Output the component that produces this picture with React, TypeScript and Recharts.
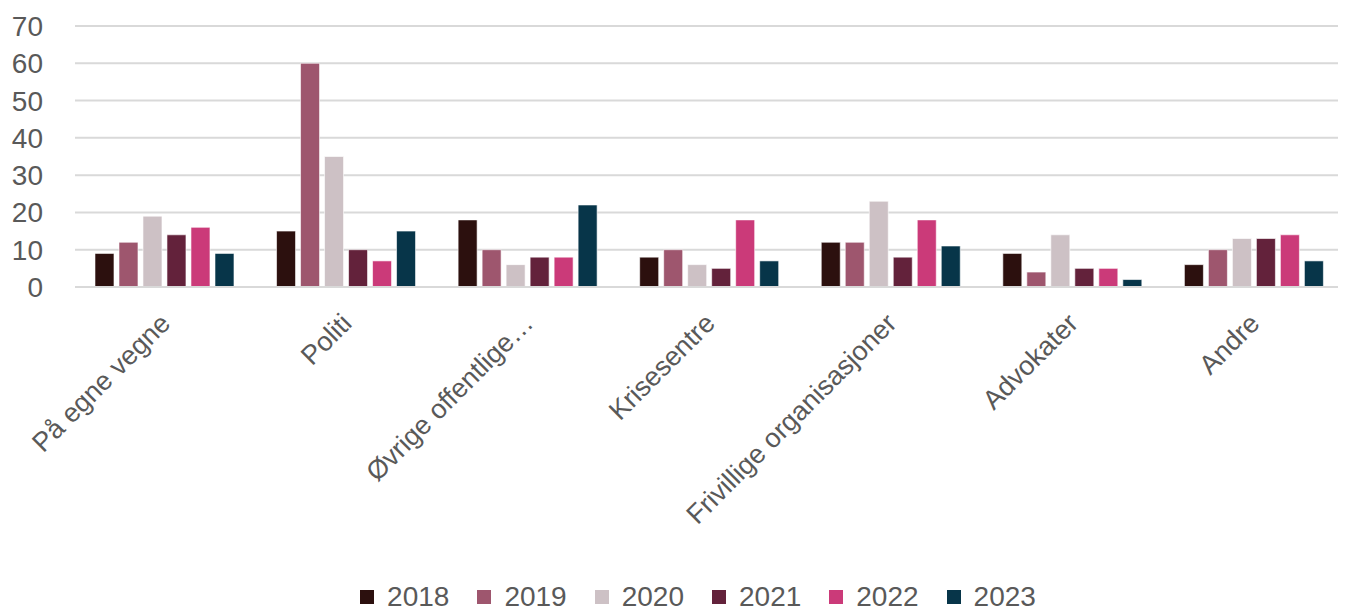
import { BarChart, Bar, XAxis, YAxis, CartesianGrid, Legend } from 'recharts';

const kategorier = [
  'På egne vegne',
  'Politi',
  'Øvrige offentlige…',
  'Krisesentre',
  'Frivillige organisasjoner',
  'Advokater',
  'Andre',
];

const aar = ['2018', '2019', '2020', '2021', '2022', '2023'];

const v2018 = [9, 15, 18, 8, 12, 9, 6];
const v2019 = [12, 60, 10, 10, 12, 4, 10];
const v2020 = [19, 35, 6, 6, 23, 14, 13];
const v2021 = [14, 10, 8, 5, 8, 5, 13];
const v2022 = [16, 7, 8, 18, 18, 5, 14];
const v2023 = [9, 15, 22, 7, 11, 2, 7];

const yTicks = [0, 10, 20, 30, 40, 50, 60, 70];

const farger = ['#2C100E', '#9E566E', '#CDC1C5', '#63223B', '#CB3A79', '#073549'];

const serier = [v2018, v2019, v2020, v2021, v2022, v2023];

const data = kategorier.map((navn, i) => {
  const rad: Record<string, string | number> = { navn };
  aar.forEach((a, j) => {
    rad[a] = serier[j][i];
  });
  return rad;
});

const FONT = '"Liberation Sans", Arial, sans-serif';
const TEXT = '#595959';

function KategoriTick(props: any) {
  const { x, y, payload } = props;
  return (
    <g transform={`translate(${x + 6},${y + 30}) rotate(-45)`}>
      <text x={0} y={0} textAnchor="end" fill={TEXT} fontSize={27} fontFamily={FONT}>
        {payload.value}
      </text>
    </g>
  );
}

function Forklaring() {
  return (
    <div
      style={{
        display: 'flex',
        justifyContent: 'center',
        alignItems: 'center',
        fontFamily: FONT,
        fontSize: 28,
        color: TEXT,
        lineHeight: '30px',
        paddingLeft: 42,
      }}
    >
      {aar.map((a, i) => (
        <div key={a} style={{ display: 'flex', alignItems: 'center', margin: '0 14px' }}>
          <span
            style={{
              display: 'inline-block',
              width: 14,
              height: 14,
              background: farger[i],
              marginRight: 13,
            }}
          />
          <span>{a}</span>
        </div>
      ))}
    </div>
  );
}

export default function App() {
  return (
    <BarChart
      width={1338}
      height={604}
      data={data}
      margin={{ top: 18, right: 0, left: 0, bottom: 0 }}
      barCategoryGap="11%"
      barGap={5}
    >
      <CartesianGrid vertical={false} stroke="#D9D9D9" strokeWidth={2} />
      <XAxis
        dataKey="navn"
        axisLine={{ stroke: '#D9D9D9', strokeWidth: 2 }}
        tickLine={false}
        interval={0}
        height={295}
        tick={<KategoriTick />}
      />
      <YAxis
        domain={[0, 70]}
        ticks={yTicks}
        axisLine={false}
        tickLine={false}
        tickSize={0}
        tickMargin={32}
        width={67}
        tick={{ fill: TEXT, fontSize: 28, fontFamily: FONT }}
      />
      <Legend verticalAlign="bottom" content={<Forklaring />} wrapperStyle={{ bottom: 0 }} />
      {aar.map((a, i) => (
        <Bar
          key={a}
          dataKey={a}
          fill={farger[i]}
          stroke="#ffffff"
          strokeWidth={0.6}
          isAnimationActive={false}
        />
      ))}
    </BarChart>
  );
}
